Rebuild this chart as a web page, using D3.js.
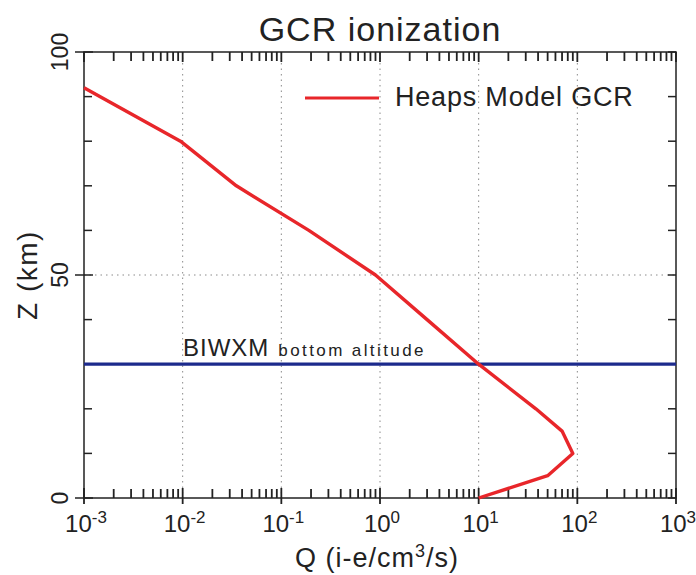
<!DOCTYPE html>
<html>
    <head>
        <script type="text/javascript" src="https://d3js.org/d3.v7.min.js" charset="utf-8"></script>
        <style>
            body { margin: 0; background: #fff; }
            text { font-family: "Liberation Sans", Arial, sans-serif; fill: #222; }
        </style>
    </head>
    <body>
        <script>
            const WIDTH = 696;
            const HEIGHT = 575;

            const LEFT = 84;
            const RIGHT = 676;
            const TOP = 52;
            const BOTTOM = 498;

            const RED = '#e8262a';
            const BLUE = '#1c2a8c';
            const GRID_COLOR = '#8a8a8a';
            const AXIS_COLOR = '#222';
            const MINOR_LEN = 9;

            // GCR ionization profile
            const altitude = [0, 5, 10, 15, 20, 30, 40, 50, 60, 70, 80, 92]; // km
            const ionization = [10, 50, 90, 70, 38, 10, 3, 0.9, 0.19, 0.035, 0.0095, 0.001]; // i-e/cm3/s

            const xDomain = [1e-3, 1e3];
            const xMajor = [-3, -2, -1, 0, 1, 2, 3]; // exponents
            const xMinorMult = [2, 3, 4, 5, 6, 7, 8, 9];
            const yDomain = [0, 100];
            const yMajor = [0, 50, 100];
            const yMinor = [10, 20, 30, 40, 60, 70, 80, 90];

            const biwxmAltitude = 30;
            const legendLabel = 'Heaps Model GCR';

            let svg = d3.select('body')
            .append('svg')
            .attr('width', WIDTH)
            .attr('height', HEIGHT);

            let x = d3.scaleLog().domain(xDomain).range([LEFT, RIGHT]);
            let y = d3.scaleLinear().domain(yDomain).range([BOTTOM, TOP]);

            let xMajorValues = xMajor.map(e => Math.pow(10, e));
            let xMinorValues = [];
            xMajor.slice(0, -1).forEach(function(e){
                xMinorMult.forEach(function(m){
                    xMinorValues.push(m * Math.pow(10, e));
                });
            });

            // grid: dotted, only at labelled positions
            let grid = svg.append('g')
            .attr('stroke', GRID_COLOR)
            .attr('stroke-width', 1)
            .attr('stroke-dasharray', '1.5,4');
            grid.selectAll('line')
            .data(xMajorValues.slice(1, -1))
            .enter().append('line')
            .attr('x1', d => x(d)).attr('x2', d => x(d))
            .attr('y1', TOP).attr('y2', BOTTOM);
            grid.append('line')
            .attr('x1', LEFT).attr('x2', RIGHT)
            .attr('y1', y(50)).attr('y2', y(50));

            // ticks
            let ticks = svg.append('g');

            function vTicks(values, y1, y2)
            {
                ticks.append('g').selectAll('line')
                .data(values).enter().append('line')
                .attr('x1', d => x(d)).attr('x2', d => x(d))
                .attr('y1', y1).attr('y2', y2)
                .attr('stroke', AXIS_COLOR)
                .attr('stroke-width', 1.8);
            }

            function hTicks(values, x1, x2)
            {
                ticks.append('g').selectAll('line')
                .data(values).enter().append('line')
                .attr('x1', x1).attr('x2', x2)
                .attr('y1', d => y(d)).attr('y2', d => y(d))
                .attr('stroke', AXIS_COLOR)
                .attr('stroke-width', 1.5);
            }

            vTicks(xMinorValues, BOTTOM, BOTTOM - MINOR_LEN);
            vTicks(xMinorValues, TOP, TOP + MINOR_LEN);
            vTicks(xMajorValues, BOTTOM - 10, BOTTOM + 6);
            vTicks(xMajorValues, TOP, TOP + 10);
            hTicks(yMinor, LEFT, LEFT + 8);
            hTicks(yMajor, LEFT - 9, LEFT + 9);
            hTicks(yMinor.concat(yMajor), RIGHT - 8, RIGHT);

            // frame
            svg.append('rect')
            .attr('x', LEFT).attr('y', TOP)
            .attr('width', RIGHT - LEFT).attr('height', BOTTOM - TOP)
            .attr('fill', 'none')
            .attr('stroke', AXIS_COLOR)
            .attr('stroke-width', 1.5);

            // x tick labels 10^n
            let xLabels = svg.append('g').selectAll('text')
            .data(xMajor).enter().append('text')
            .attr('x', d => x(Math.pow(10, d)) + 2)
            .attr('y', 532)
            .attr('text-anchor', 'middle')
            .style('font-size', '24px');
            xLabels.append('tspan').text('10');
            xLabels.append('tspan')
            .attr('dy', -9)
            .style('font-size', '17px')
            .text(d => d < 0 ? '-' + Math.abs(d) : d);

            // y tick labels, rotated
            svg.append('g').selectAll('text')
            .data(yMajor).enter().append('text')
            .attr('transform', d => 'translate(68,' + y(d) + ') rotate(-90)')
            .attr('text-anchor', 'middle')
            .style('font-size', '23px')
            .text(d => d);

            // BIWXM bottom altitude
            svg.append('line')
            .attr('x1', LEFT).attr('x2', RIGHT)
            .attr('y1', y(biwxmAltitude)).attr('y2', y(biwxmAltitude))
            .attr('stroke', BLUE)
            .attr('stroke-width', 3.2);
            let biwxm = svg.append('text')
            .attr('x', 183)
            .attr('y', 356)
            .style('font-size', '24px')
            .style('letter-spacing', '1px');
            biwxm.append('tspan').text('BIWXM');
            biwxm.append('tspan')
            .attr('dx', 9)
            .style('font-size', '17px')
            .style('letter-spacing', '2.4px')
            .text('bottom altitude');

            // curve
            let line = d3.line()
            .x((d, i) => x(ionization[i]))
            .y(d => y(d));
            svg.append('path')
            .datum(altitude)
            .attr('d', line)
            .attr('fill', 'none')
            .attr('stroke', RED)
            .attr('stroke-width', 3.4)
            .attr('stroke-linejoin', 'round');

            // legend
            svg.append('line')
            .attr('x1', 305).attr('x2', 379)
            .attr('y1', 98).attr('y2', 98)
            .attr('stroke', RED)
            .attr('stroke-width', 3);
            svg.append('text')
            .attr('x', 395)
            .attr('y', 106)
            .style('font-size', '27px')
            .style('letter-spacing', '0.8px')
            .text(legendLabel);

            // titles
            svg.append('text')
            .attr('x', 380)
            .attr('y', 41)
            .attr('text-anchor', 'middle')
            .style('font-size', '34px')
            .style('letter-spacing', '1px')
            .text('GCR ionization');

            let xTitle = svg.append('text')
            .attr('x', 377)
            .attr('y', 567)
            .attr('text-anchor', 'middle')
            .style('font-size', '27px')
            .style('letter-spacing', '1px');
            xTitle.append('tspan').text('Q (i-e/cm');
            xTitle.append('tspan').attr('dy', -10).style('font-size', '18px').text('3');
            xTitle.append('tspan').attr('dy', 10).text('/s)');

            svg.append('text')
            .attr('transform', 'translate(37,' + y(50) + ') rotate(-90)')
            .attr('text-anchor', 'middle')
            .style('font-size', '28px')
            .style('letter-spacing', '1.5px')
            .text('Z (km)');
        </script>
    </body>
</html>
